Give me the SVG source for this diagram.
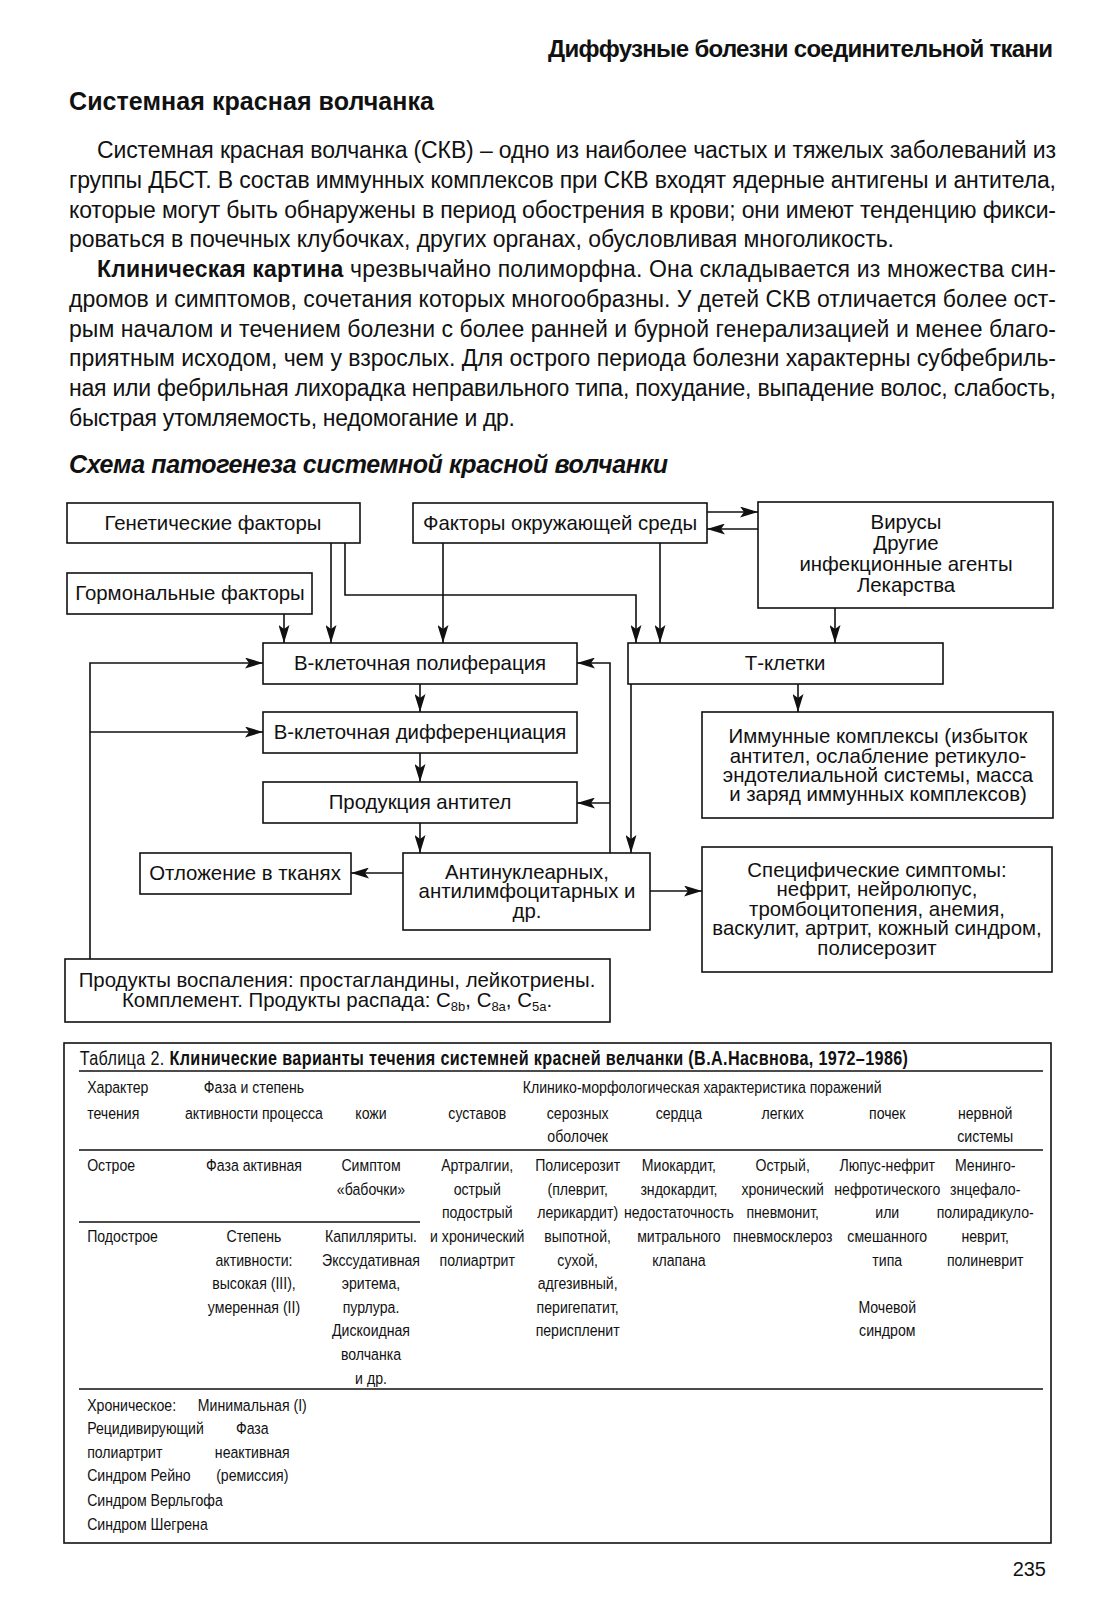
<svg xmlns="http://www.w3.org/2000/svg" width="1110" height="1600" viewBox="0 0 1110 1600">
<style>
text{font-family:"Liberation Sans",Arial,sans-serif;fill:#111}
.body{font-size:23px}
.b{font-weight:bold}
.box{fill:#fff;stroke:#111;stroke-width:1.6}
.n{font-size:20.4px;text-anchor:middle}
.con path{fill:none;stroke:#111;stroke-width:1.6}
.tl{stroke:#111;stroke-width:1.6;fill:none}
.t{font-size:17px}
.c{text-anchor:middle}
</style>
<defs>
<marker id="ah" viewBox="0 0 18 11" refX="18" refY="5.5" markerWidth="18" markerHeight="11" markerUnits="userSpaceOnUse" orient="auto"><path d="M0,0 L18,5.5 L0,11 L4,5.5 z" fill="#111"/></marker>
</defs>
<rect width="1110" height="1600" fill="#fff"/>

<text x="1053" y="57" font-size="24" class="b" text-anchor="end" textLength="505">Диффузные болезни соединительной ткани</text>
<text x="69" y="110" font-size="25" class="b" textLength="365">Системная красная волчанка</text>

<g class="body">
<text x="97" y="158" textLength="959">Системная красная волчанка (СКВ) – одно из наиболее частых и тяжелых заболеваний из</text>
<text x="69" y="188" textLength="987">группы ДБСТ. В состав иммунных комплексов при СКВ входят ядерные антигены и антитела,</text>
<text x="69" y="218" textLength="987">которые могут быть обнаружены в период обострения в крови; они имеют тенденцию фикси-</text>
<text x="69" y="247" textLength="825">роваться в почечных клубочках, других органах, обусловливая многоликость.</text>
<text x="97" y="277" textLength="959"><tspan class="b">Клиническая картина</tspan> чрезвычайно полиморфна. Она складывается из множества син-</text>
<text x="69" y="307" textLength="987">дромов и симптомов, сочетания которых многообразны. У детей СКВ отличается более ост-</text>
<text x="69" y="337" textLength="987">рым началом и течением болезни с более ранней и бурной генерализацией и менее благо-</text>
<text x="69" y="366" textLength="987">приятным исходом, чем у взрослых. Для острого периода болезни характерны субфебриль-</text>
<text x="69" y="396" textLength="987">ная или фебрильная лихорадка неправильного типа, похудание, выпадение волос, слабость,</text>
<text x="69" y="426" textLength="446">быстрая утомляемость, недомогание и др.</text>
</g>

<text x="69" y="473" font-size="25" class="b" font-style="italic" textLength="599">Схема патогенеза системной красной волчанки</text>

<g class="con">
<path d="M331,543 V643" marker-end="url(#ah)"/>
<path d="M345,543 V595 H636 V643" marker-end="url(#ah)"/>
<path d="M284,614 V643" marker-end="url(#ah)"/>
<path d="M443,543 V643" marker-end="url(#ah)"/>
<path d="M660,543 V643" marker-end="url(#ah)"/>
<path d="M835,608 V643" marker-end="url(#ah)"/>
<path d="M707,512 H758" marker-end="url(#ah)"/>
<path d="M758,529 H707" marker-end="url(#ah)"/>
<path d="M420,684 V712" marker-end="url(#ah)"/>
<path d="M420,753 V782" marker-end="url(#ah)"/>
<path d="M420,823 V853" marker-end="url(#ah)"/>
<path d="M798,684 V712" marker-end="url(#ah)"/>
<path d="M631,684 V853" marker-end="url(#ah)"/>
<path d="M610,853 V663 H577" marker-end="url(#ah)"/>
<path d="M610,803 H577" marker-end="url(#ah)"/>
<path d="M403,873 H351" marker-end="url(#ah)"/>
<path d="M650,891 H702" marker-end="url(#ah)"/>
<path d="M90,959 V663 H263" marker-end="url(#ah)"/>
<path d="M90,732 H263" marker-end="url(#ah)"/>
</g>

<g id="n-gen"><rect class="box" x="67" y="503" width="293" height="40"/><text class="n" x="213" y="530">Генетические факторы</text></g>
<g id="n-env"><rect class="box" x="413" y="503" width="294" height="40"/><text class="n" x="560" y="530">Факторы окружающей среды</text></g>
<g id="n-vir"><rect class="box" x="758" y="502" width="295" height="106"/>
<text class="n" x="906" y="529">Вирусы</text><text class="n" x="906" y="550">Другие</text><text class="n" x="906" y="571">инфекционные агенты</text><text class="n" x="906" y="592">Лекарства</text></g>
<g id="n-horm"><rect class="box" x="67" y="573" width="245" height="41"/><text class="n" x="190" y="600">Гормональные факторы</text></g>
<g id="n-bprol"><rect class="box" x="263" y="643" width="314" height="41"/><text class="n" x="420" y="670">В-клеточная полиферация</text></g>
<g id="n-tcell"><rect class="box" x="628" y="643" width="315" height="41"/><text class="n" x="785" y="670">Т-клетки</text></g>
<g id="n-bdiff"><rect class="box" x="263" y="712" width="314" height="41"/><text class="n" x="420" y="739">В-клеточная дифференциация</text></g>
<g id="n-immune"><rect class="box" x="702" y="712" width="351" height="106"/>
<text class="n" x="878" y="743">Иммунные комплексы (избыток</text><text class="n" x="878" y="763">антител, ослабление ретикуло-</text><text class="n" x="878" y="782">эндотелиальной системы, масса</text><text class="n" x="878" y="801">и заряд иммунных комплексов)</text></g>
<g id="n-prod"><rect class="box" x="263" y="782" width="314" height="41"/><text class="n" x="420" y="809">Продукция антител</text></g>
<g id="n-otl"><rect class="box" x="140" y="853" width="211" height="41"/><text class="n" x="245" y="880">Отложение в тканях</text></g>
<g id="n-anti"><rect class="box" x="403" y="853" width="247" height="77"/>
<text class="n" x="527" y="879">Антинуклеарных,</text><text class="n" x="527" y="898">антилимфоцитарных и</text><text class="n" x="527" y="918">др.</text></g>
<g id="n-spec"><rect class="box" x="702" y="847" width="350" height="125"/>
<text class="n" x="877" y="877">Специфические симптомы:</text><text class="n" x="877" y="896">нефрит, нейролюпус,</text><text class="n" x="877" y="916">тромбоцитопения, анемия,</text><text class="n" x="877" y="935">васкулит, артрит, кожный синдром,</text><text class="n" x="877" y="955">полисерозит</text></g>
<g id="n-infl"><rect class="box" x="65" y="959" width="545" height="63"/>
<text class="n" x="337" y="987">Продукты воспаления: простагландины, лейкотриены.</text>
<text class="n" x="337" y="1007">Комплемент. Продукты распада: C<tspan font-size="13" dy="4">8b</tspan><tspan dy="-4">, C</tspan><tspan font-size="13" dy="4">8a</tspan><tspan dy="-4">, C</tspan><tspan font-size="13" dy="4">5a</tspan><tspan dy="-4">.</tspan></text></g>

<g id="table">
<rect class="tl" x="64" y="1043" width="987" height="500"/>
<path class="tl" d="M79,1071 H1043 M79,1150 H1043 M79,1222 H420 M79,1389 H1043"/>
<g transform="scale(0.83 1)" class="t">
<text x="96" y="1065" font-size="19.5" textLength="998">Таблица 2. <tspan class="b">Клинические варианты течения системней красней велчанки (В.А.Насвнова, 1972–1986)</tspan></text>
<text x="105" y="1093">Характер</text>
<text x="105" y="1119">течения</text>
<text class="c" x="306" y="1093">Фаза и степень</text>
<text class="c" x="306" y="1119">активности процесса</text>
<text class="c" x="846" y="1093">Клинико-морфологическая характеристика поражений</text>
<text class="c" x="447" y="1119">кожи</text>
<text class="c" x="575" y="1119">суставов</text>
<text class="c" x="696" y="1119">серозных</text>
<text class="c" x="696" y="1142">оболочек</text>
<text class="c" x="818" y="1119">сердца</text>
<text class="c" x="943" y="1119">легких</text>
<text class="c" x="1069" y="1119">почек</text>
<text class="c" x="1187" y="1119">нервной</text>
<text class="c" x="1187" y="1142">системы</text>

<text x="105" y="1171">Острое</text>
<text class="c" x="306" y="1171">Фаза активная</text>
<text class="c" x="447" y="1171">Симптом</text>
<text class="c" x="447" y="1195">«бабочки»</text>
<text class="c" x="575" y="1171">Артралгии,</text>
<text class="c" x="575" y="1195">острый</text>
<text class="c" x="575" y="1218">подострый</text>
<text class="c" x="575" y="1242">и хронический</text>
<text class="c" x="575" y="1266">полиартрит</text>
<text class="c" x="696" y="1171">Полисерозит</text>
<text class="c" x="696" y="1195">(плеврит,</text>
<text class="c" x="696" y="1218">лерикардит)</text>
<text class="c" x="696" y="1242">выпотной,</text>
<text class="c" x="696" y="1266">сухой,</text>
<text class="c" x="696" y="1289">адгезивный,</text>
<text class="c" x="696" y="1313">перигепатит,</text>
<text class="c" x="696" y="1336">периспленит</text>
<text class="c" x="818" y="1171">Миокардит,</text>
<text class="c" x="818" y="1195">зндокардит,</text>
<text class="c" x="818" y="1218">недостаточность</text>
<text class="c" x="818" y="1242">митрального</text>
<text class="c" x="818" y="1266">клапана</text>
<text class="c" x="943" y="1171">Острый,</text>
<text class="c" x="943" y="1195">хронический</text>
<text class="c" x="943" y="1218">пневмонит,</text>
<text class="c" x="943" y="1242">пневмосклероз</text>
<text class="c" x="1069" y="1171">Люпус-нефрит</text>
<text class="c" x="1069" y="1195">нефротического</text>
<text class="c" x="1069" y="1218">или</text>
<text class="c" x="1069" y="1242">смешанного</text>
<text class="c" x="1069" y="1266">типа</text>
<text class="c" x="1069" y="1313">Мочевой</text>
<text class="c" x="1069" y="1336">синдром</text>
<text class="c" x="1187" y="1171">Менинго-</text>
<text class="c" x="1187" y="1195">знцефало-</text>
<text class="c" x="1187" y="1218">полирадикуло-</text>
<text class="c" x="1187" y="1242">неврит,</text>
<text class="c" x="1187" y="1266">полиневрит</text>

<text x="105" y="1242">Подострое</text>
<text class="c" x="306" y="1242">Степень</text>
<text class="c" x="306" y="1266">активности:</text>
<text class="c" x="306" y="1289">высокая (III),</text>
<text class="c" x="306" y="1313">умеренная (II)</text>
<text class="c" x="447" y="1242">Капилляриты.</text>
<text class="c" x="447" y="1266">Экссудативная</text>
<text class="c" x="447" y="1289">эритема,</text>
<text class="c" x="447" y="1313">пурлура.</text>
<text class="c" x="447" y="1336">Дискоидная</text>
<text class="c" x="447" y="1360">волчанка</text>
<text class="c" x="447" y="1384">и др.</text>

<text x="105" y="1411">Хроническое:</text>
<text x="105" y="1434">Рецидивирующий</text>
<text x="105" y="1458">полиартрит</text>
<text x="105" y="1481">Синдром Рейно</text>
<text x="105" y="1506">Синдром Верльгофа</text>
<text x="105" y="1530">Синдром Шегрена</text>
<text class="c" x="304" y="1411">Минимальная (I)</text>
<text class="c" x="304" y="1434">Фаза</text>
<text class="c" x="304" y="1458">неактивная</text>
<text class="c" x="304" y="1481">(ремиссия)</text>
</g>
</g>

<text x="1046" y="1576" font-size="20" text-anchor="end">235</text>
</svg>
